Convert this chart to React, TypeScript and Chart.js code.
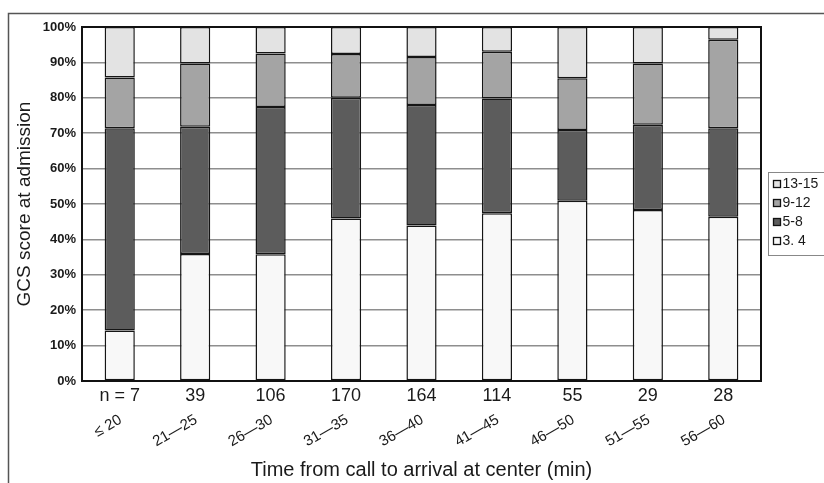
import { useEffect, useRef } from "react";
import { Chart, registerables } from "chart.js";

Chart.register(...registerables);

// ---- data ----
const nLabels = ["n = 7", "39", "106", "170", "164", "114", "55", "29", "28"];
const rangeLabels = ["≤ 20", "21—25", "26—30", "31—35", "36—40", "41—45", "46—50", "51—55", "56—60"];
const seriesNames = ["3. 4", "5-8", "9-12", "13-15"];
const gcs34 = [14.3, 35.9, 35.8, 45.9, 43.9, 47.4, 50.9, 48.3, 46.4];
const gcs58 = [57.1, 35.9, 41.6, 34.1, 34.1, 32.4, 20.0, 24.1, 25.0];
const gcs912 = [14.3, 17.9, 15.1, 12.4, 13.5, 13.2, 14.6, 17.3, 25.0];
const gcs1315 = [14.3, 10.3, 7.5, 7.6, 8.5, 7.0, 14.5, 10.3, 3.6];
const seriesColors = ["#f8f8f8", "#5c5c5c", "#a4a4a4", "#e3e3e3"];
const yTitle = "GCS score at admission";
const xTitle = "Time from call to arrival at center (min)";

const FONT = "'Liberation Sans', Arial, sans-serif";

const decorPlugin = {
  id: "decor",
  beforeDraw(chart: any) {
    const { ctx, width, height } = chart;
    ctx.save();
    ctx.fillStyle = "#ffffff";
    ctx.fillRect(0, 0, width, height);
    ctx.strokeStyle = "#555";
    ctx.lineWidth = 1.5;
    ctx.strokeRect(8.5, 13.5, width + 50, height + 50);
    ctx.restore();
  },
  afterDraw(chart: any) {
    const { ctx, chartArea } = chart;
    ctx.save();
    // plot border
    ctx.strokeStyle = "#111";
    ctx.lineWidth = 2;
    ctx.strokeRect(chartArea.left, chartArea.top, chartArea.right - chartArea.left, chartArea.bottom - chartArea.top);
    // legend
    const lx = chartArea.right + 7.5;
    const midY = (chartArea.top + chartArea.bottom) / 2 + 9.5;
    const lh = 83;
    const ly = Math.round(midY - lh / 2) + 0.5;
    ctx.strokeStyle = "#888";
    ctx.lineWidth = 1;
    ctx.strokeRect(lx, ly, 120, lh);
    const ds = chart.data.datasets;
    ctx.font = "14px " + FONT;
    ctx.textBaseline = "middle";
    ctx.textAlign = "left";
    for (let i = 0; i < ds.length; i++) {
      const d = ds[ds.length - 1 - i];
      const cy = ly + 11.5 + i * 19;
      ctx.fillStyle = d.backgroundColor;
      ctx.fillRect(lx + 5, cy - 3.5, 7, 7);
      ctx.strokeStyle = "#111";
      ctx.lineWidth = 1.3;
      ctx.strokeRect(lx + 5, cy - 3.5, 7, 7);
      ctx.fillStyle = "#1a1a1a";
      ctx.fillText(d.label, lx + 14, cy);
    }
    ctx.restore();
  },
};

export default function App() {
  const ref = useRef<HTMLCanvasElement | null>(null);
  useEffect(() => {
    document.body.style.margin = "0";
    document.body.style.overflow = "hidden";
    const values = [gcs34, gcs58, gcs912, gcs1315];
    const chart = new Chart(ref.current as HTMLCanvasElement, {
      type: "bar",
      data: {
        labels: nLabels,
        datasets: seriesNames.map((name, i) => ({
          label: name,
          data: values[i],
          backgroundColor: seriesColors[i],
          borderColor: "#151515",
          borderWidth: 1.5,
          borderSkipped: false,
          categoryPercentage: 1,
          barPercentage: 0.4,
          xAxisID: "x",
        })),
      },
      options: {
        animation: false,
        responsive: false,
        maintainAspectRatio: false,
        layout: { padding: { left: 0, top: 27, right: 63, bottom: 0 } },
        plugins: { legend: { display: false }, tooltip: { enabled: false } },
        scales: {
          x: {
            type: "category",
            stacked: true,
            position: "bottom",
            grid: { display: false, drawTicks: false },
            border: { display: false },
            ticks: { color: "#1a1a1a", font: { family: FONT, size: 18 }, padding: 4, maxRotation: 0, autoSkip: false },
            afterFit: (s: any) => { s.height = 26; },
          },
          x2: {
            type: "category",
            labels: rangeLabels,
            position: "bottom",
            offset: true,
            grid: { display: false, drawTicks: false },
            border: { display: false },
            ticks: {
              color: "#1a1a1a",
              font: { family: FONT, size: 15 },
              padding: 4,
              minRotation: 30,
              maxRotation: 30,
              autoSkip: false,
              labelOffset: 1,
            },
            title: { display: true, text: xTitle, color: "#1a1a1a", font: { family: FONT, size: 20 }, padding: { top: 0, bottom: 1 } },
            afterFit: (s: any) => { s.height = 76; },
          },
          y: {
            stacked: true,
            min: 0,
            max: 100,
            grid: { color: "#8e8e8e", lineWidth: 1.5, drawTicks: false },
            border: { display: false },
            ticks: {
              stepSize: 10,
              padding: 6,
              color: "#1a1a1a",
              font: { family: FONT, size: 13, weight: "bold" },
              callback: (v: any) => v + "%",
            },
            title: { display: true, text: yTitle, color: "#1a1a1a", font: { family: FONT, size: 19 }, padding: { top: 13, bottom: 0 } },
            afterFit: (s: any) => { s.width = 82; },
          },
        },
      },
      plugins: [decorPlugin],
    } as any);
    return () => chart.destroy();
  }, []);
  return (
    <div style={{ width: 824, height: 483 }}>
      <canvas ref={ref} width={824} height={483} style={{ display: "block" }} />
    </div>
  );
}
